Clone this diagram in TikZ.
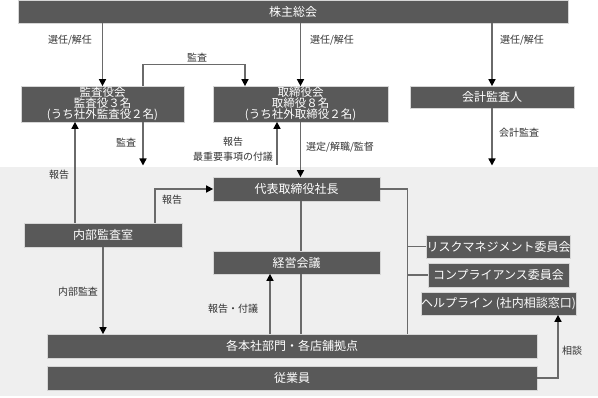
\documentclass[tikz,border=0pt]{standalone}
\usepackage{fontspec}
\setmainfont{Noto Sans CJK JP}
\usetikzlibrary{arrows.meta}
\definecolor{boxfill}{HTML}{595959}
\definecolor{boxline}{HTML}{D6D6D6}
\definecolor{bggray}{HTML}{EFEFEF}
\definecolor{lngray}{HTML}{6A6A6A}
\definecolor{lbl}{HTML}{333333}
\tikzset{
  box/.style={draw=boxline, line width=0.7pt, fill=boxfill, text=white, inner sep=0pt,
    align=center, font=\fontsize{12}{11.5}\selectfont},
  multibox/.style={box, font=\fontsize{11.5}{10.8}\selectfont},
  ln/.style={draw=lngray, line width=1.5pt},
  arr/.style={ln, -{Triangle[width=7pt,length=7pt,color=black]}, shorten >=-0.5pt},
  lab/.style={text=lbl, inner sep=0pt, font=\fontsize{10}{12}\selectfont}
}
\begin{document}
\begin{tikzpicture}[x=1pt,y=-1pt]
\useasboundingbox (0,0) rectangle (598,398);
\fill[bggray] (0,167) rectangle (598,396);

% boxes
\node[box, minimum width=550pt, minimum height=23pt] (sh) at (293,11.5) {株主総会};
\node[multibox, minimum width=163pt, minimum height=36pt] (kansa) at (102.5,104) {監査役会\\監査役３名\\(うち社外監査役２名)};
\node[multibox, minimum width=175pt, minimum height=36pt] (tori) at (300.5,104) {取締役会\\取締役８名\\(うち社外取締役２名)};
\node[box, minimum width=164pt, minimum height=22pt] (kaikei) at (492,97) {会計監査人};
\node[box, minimum width=167pt, minimum height=24pt] (pres) at (296.5,189) {代表取締役社長};
\node[box, minimum width=158pt, minimum height=24pt] (naibu) at (103,235) {内部監査室};
\node[box, minimum width=167pt, minimum height=23pt] (keiei) at (296.5,262.5) {経営会議};
\node[box, minimum width=141pt, minimum height=23pt] (risk) at (498.5,246.5) {リスクマネジメント委員会};
\node[box, minimum width=141pt, minimum height=24pt] (comp) at (498.5,275) {コンプライアンス委員会};
\node[box, minimum width=141pt, minimum height=23pt] (help) at (498.5,303.5) {ヘルプライン (社内相談窓口)};
\node[box, minimum width=490pt, minimum height=24pt] (honsha) at (292,346) {各本社部門・各店舗拠点};
\node[box, minimum width=490pt, minimum height=24pt] (jugyo) at (292,378) {従業員};

% free ends
\coordinate (endA) at (143,165);
\coordinate (endB) at (277,165);
\coordinate (endC) at (492,165);

% connectors
\draw[arr] (sh.south -| kansa.north) -- (kansa.north);
\draw[arr] (sh.south -| tori.north) -- (tori.north);
\draw[arr] (sh.south -| kaikei.north) -- (kaikei.north);
\draw[arr] ([xshift=40.5pt]kansa.north) -- ++(0,-21) -| ([xshift=-55.5pt]tori.north);
\draw[arr] ([xshift=40.5pt]kansa.south) -- (endA);
\draw[arr] ([xshift=-28pt]naibu.north) -- ([xshift=-28pt]naibu.north |- kansa.south);
\draw[arr] (endB) -- (endB |- tori.south);
\draw[arr] (tori.south) -- (tori.south |- pres.north);
\draw[arr] (kaikei.south) -- (endC);
\draw[arr] ([xshift=52pt]naibu.north) |- (pres.west);
\draw[arr] (naibu.south) -- (naibu.south |- honsha.north);
\draw[arr] ([xshift=-26.5pt]keiei.south |- honsha.north) -- ([xshift=-26.5pt]keiei.south);
\draw[ln] ([xshift=4.5pt]pres.south) -- ([xshift=4.5pt]keiei.north);
\draw[ln] ([xshift=4.5pt]keiei.south) -- ([xshift=4.5pt]keiei.south |- honsha.north);
\draw[ln] (pres.east) -- ++(27,0) coordinate (bt) -- (bt |- honsha.north);
\draw[ln] (bt |- risk.west) -- (risk.west);
\draw[ln] (bt |- comp.west) -- (comp.west);
\draw[arr] (jugyo.east) -| ([xshift=59.5pt]help.south);

% labels
\node[lab] (l1) at (70,40) {選任/解任};
\node[lab] (l2) at (332,40) {選任/解任};
\node[lab] (l3) at (522,40) {選任/解任};
\node[lab] (l4) at (197,58) {監査};
\node[lab] (l5) at (126,143) {監査};
\node[lab] (l6) at (233,142) {報告};
\node[lab] (l7) at (233,157) {最重要事項の付議};
\node[lab] (l8) at (340,147) {選定/解職/監督};
\node[lab] (l9) at (519,133) {会計監査};
\node[lab] (l10) at (59,175) {報告};
\node[lab] (l11) at (172,200) {報告};
\node[lab] (l12) at (78,292) {内部監査};
\node[lab] (l13) at (233,309) {報告・付議};
\node[lab] (l14) at (572,351) {相談};
\end{tikzpicture}
\end{document}
